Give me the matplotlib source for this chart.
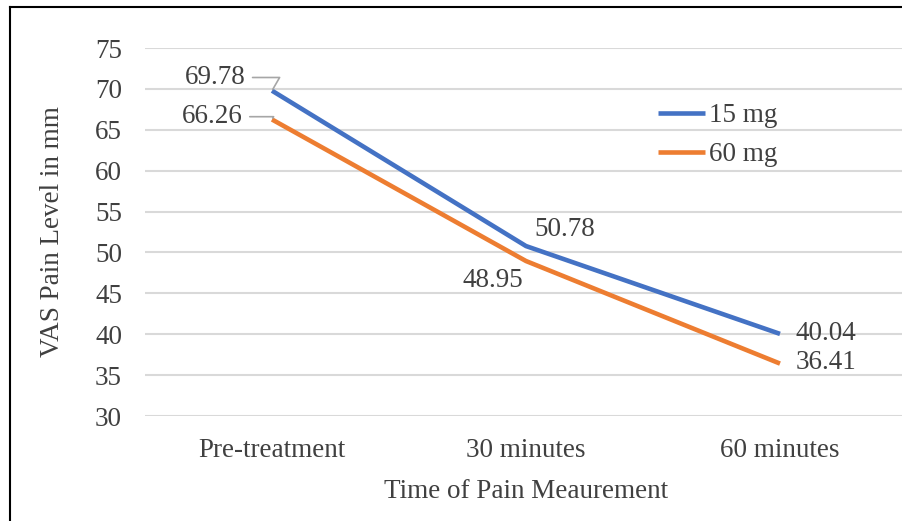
import matplotlib
matplotlib.use("Agg")
import matplotlib.pyplot as plt
from matplotlib.lines import Line2D

categories = ["Pre-treatment", "30 minutes", "60 minutes"]
series_names = ["15 mg", "60 mg"]
vals_15 = [69.78, 50.78, 40.04]
vals_60 = [66.26, 48.95, 36.41]
yticks = [30, 35, 40, 45, 50, 55, 60, 65, 70, 75]

plt.rcParams['font.family'] = ['Liberation Serif', 'DejaVu Serif']
txt = '#404040'
grid_c = '#d9d9d9'
blue = '#4472C4'
orange = '#ED7D31'
fs = 19.5

fig = plt.figure(figsize=(9.03, 5.21), dpi=100)
W, H = 903, 521
ax = fig.add_axes([145 / W, 1 - 416 / H, (907 - 145) / W, (416 - 48) / H])

x = list(range(len(categories)))
ax.plot(x, vals_15, color=blue, lw=3.3, solid_capstyle='butt', zorder=3, label=series_names[0])
ax.plot(x, vals_60, color=orange, lw=3.3, solid_capstyle='butt', zorder=3, label=series_names[1])

ax.set_xlim(-0.5, 2.5)
ax.set_ylim(30, 75)
ax.set_yticks(yticks)
ax.set_xticks(x)
ax.set_xticklabels(categories)
ax.yaxis.grid(True, color=grid_c, lw=1.5)
ax.set_axisbelow(True)
for s in ax.spines.values():
    s.set_visible(False)
ax.tick_params(axis='both', length=0, labelsize=fs, labelcolor=txt)
ax.tick_params(axis='y', pad=16.5)
ax.tick_params(axis='x', pad=16)
ax.set_ylabel("VAS Pain Level in mm", fontsize=fs, color=txt, labelpad=22)
ax.set_xlabel("Time of Pain Meaurement", fontsize=fs, color=txt, labelpad=11)

lead = dict(arrowstyle='-', color='#a6a6a6', lw=1.2, shrinkA=3, shrinkB=1,
            connectionstyle='angle,angleA=0,angleB=60,rad=0')
ax.annotate(f"{vals_15[0]:.2f}", xy=(x[0], vals_15[0]), xytext=(-19, 9.5), textcoords='offset points',
            ha='right', va='center', fontsize=fs, color=txt, arrowprops=lead)
ax.annotate(f"{vals_60[0]:.2f}", xy=(x[0], vals_60[0]), xytext=(-21, 2), textcoords='offset points',
            ha='right', va='center', fontsize=fs, color=txt, arrowprops=lead)
ax.annotate(f"{vals_15[1]:.2f}", xy=(x[1], vals_15[1]), xytext=(6, 12), textcoords='offset points',
            ha='left', va='center', fontsize=fs, color=txt)
ax.annotate(f"{vals_60[1]:.2f}", xy=(x[1], vals_60[1]), xytext=(-2, -14), textcoords='offset points',
            ha='right', va='center', fontsize=fs, color=txt)
ax.annotate(f"{vals_15[2]:.2f}", xy=(x[2], vals_15[2]), xytext=(11, 0), textcoords='offset points',
            ha='left', va='center', fontsize=fs, color=txt)
ax.annotate(f"{vals_60[2]:.2f}", xy=(x[2], vals_60[2]), xytext=(11, 1), textcoords='offset points',
            ha='left', va='center', fontsize=fs, color=txt)

leg = ax.legend(loc='upper left', bbox_to_anchor=((658 - 145) / (907 - 145), (416 - 103) / (416 - 48)),
                frameon=False, fontsize=fs, labelcolor=txt, handlelength=1.75, handletextpad=0.12,
                labelspacing=0.52, borderaxespad=0, borderpad=0)

fig.add_artist(Line2D([10 / W, 10 / W], [0, 1 - 7 / H], transform=fig.transFigure, color='black', lw=1.5))
fig.add_artist(Line2D([10 / W, 1], [1 - 7 / H, 1 - 7 / H], transform=fig.transFigure, color='black', lw=1.5))

fig.savefig("out.png", dpi=100)
